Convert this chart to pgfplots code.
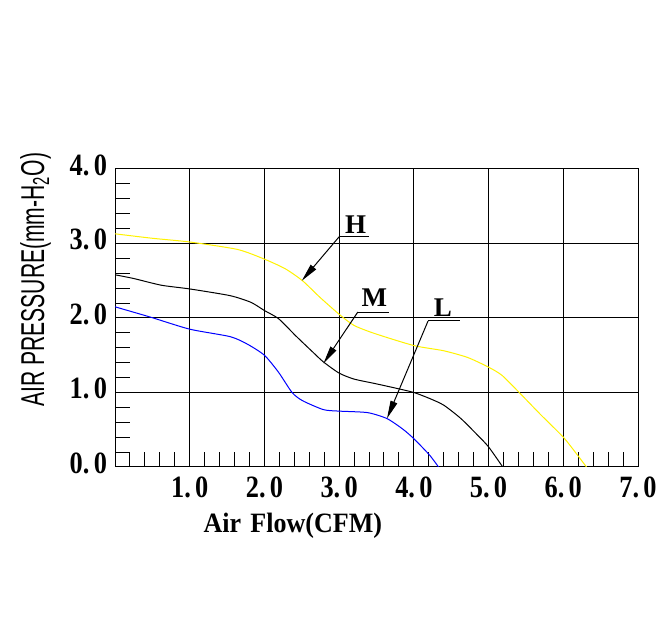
\documentclass[border=0pt]{standalone}
\usepackage{pgfplots}
\pgfplotsset{compat=1.18}
\usepackage{fontspec}
\setmainfont{Liberation Serif}
\newfontfamily\labsans{Liberation Sans}
\usetikzlibrary{arrows.meta}
\newcommand{\tl}[1]{\scalebox{0.85}[1]{#1.\hspace{2.5pt}0}}
\begin{document}
\begin{tikzpicture}
\useasboundingbox (0,0) rectangle (333.5pt,315pt);
\begin{axis}[
  at={(57.5pt,81.5pt)}, anchor=south west,
  scale only axis, width=261.5pt, height=149pt,
  xmin=0, xmax=7, ymin=0, ymax=4,
  xtick={1,2,3,4,5,6,7},
  xticklabels={\tl1,\tl2,\tl3,\tl4,\tl5,\tl6,\tl7},
  ytick={0,1,2,3,4},
  yticklabels={\tl0,\tl1,\tl2,\tl3,\tl4},
  minor xtick={0.2,0.4,0.6,0.8,1.2,1.4,1.6,1.8,2.2,2.4,2.6,2.8,3.2,3.4,3.6,3.8,4.2,4.4,4.6,4.8,5.2,5.4,5.6,5.8,6.2,6.4,6.6,6.8},
  minor y tick num=4,
  tick align=inside, xtick pos=bottom, ytick pos=left,
  major tick length=7.5pt, minor tick length=7.5pt,
  tick style={black, line width=0.5pt},
  grid=major, major grid style={black, line width=0.5pt},
  axis line style={black, line width=0.5pt},
  ticklabel style={font=\bfseries\fontsize{15.5}{15.5}\selectfont},
  yticklabel style={yshift=2pt, xshift=-0.5pt},
  xticklabel style={yshift=-1.5pt},
  xlabel={\scalebox{0.93}[1]{\bfseries\fontsize{14}{14}\selectfont Air\hspace{5pt}Flow(CFM)}},
  xlabel style={at={(axis description cs:0.340,-0.198)}, anchor=center},
  ylabel={\scalebox{0.64}[1]{\labsans\fontsize{16.5}{16.5}\selectfont AIR PRESSURE(mm-H\textsubscript{2}O)}},
  ylabel style={at={(axis description cs:-0.152,0.628)}, anchor=center, rotate=0},
]
\addplot[yellow, line width=0.5pt, smooth, tension=0.4] coordinates {
(0,3.13) (0.5,3.07) (1.0,3.02) (1.64,2.92) (2.0,2.79) (2.28,2.66) (2.51,2.50)
(2.74,2.28) (3.0,2.05) (3.2,1.90) (3.48,1.79) (4.0,1.63) (4.40,1.56) (4.72,1.47)
(5.0,1.34) (5.18,1.23) (5.41,1.00) (5.69,0.71) (6.0,0.40) (6.19,0.16) (6.31,0.0)};
\addplot[black, line width=0.5pt, smooth, tension=0.4] coordinates {
(0,2.58) (0.25,2.53) (0.62,2.44) (1.0,2.39) (1.54,2.30) (1.82,2.21) (2.0,2.10)
(2.19,1.99) (2.42,1.76) (2.65,1.54) (2.79,1.41) (3.0,1.26) (3.2,1.18) (3.48,1.12)
(3.75,1.06) (4.0,1.00) (4.21,0.92) (4.40,0.83) (4.63,0.65) (4.86,0.42) (5.0,0.27) (5.19,0.0)};
\addplot[blue, line width=0.5pt, smooth, tension=0.4] coordinates {
(0,2.15) (0.48,2.01) (1.0,1.85) (1.54,1.75) (1.77,1.65) (2.0,1.50) (2.19,1.27)
(2.37,1.00) (2.51,0.89) (2.79,0.77) (3.0,0.75) (3.38,0.73) (3.64,0.65) (3.85,0.51)
(4.0,0.38) (4.21,0.16) (4.33,0.0)};
% annotations
\draw[line width=0.5pt] (axis cs:3.0,3.09) -- (axis cs:3.40,3.09);
\draw[line width=0.5pt, -{Triangle[length=9pt,width=3.5pt]}] (axis cs:3.0,3.09) -- (axis cs:2.50,2.50);
\node[anchor=base, font=\bfseries\fontsize{13.5}{13.5}\selectfont, inner sep=0pt] at (axis cs:3.22,3.13) {H};
\draw[line width=0.5pt] (axis cs:3.25,2.08) -- (axis cs:3.67,2.08);
\draw[line width=0.5pt, -{Triangle[length=9pt,width=3.5pt]}] (axis cs:3.25,2.08) -- (axis cs:2.79,1.39);
\node[anchor=base, font=\bfseries\fontsize{13.5}{13.5}\selectfont, inner sep=0pt] at (axis cs:3.47,2.16) {M};
\draw[line width=0.5pt] (axis cs:4.19,1.96) -- (axis cs:4.62,1.96);
\draw[line width=0.5pt, -{Triangle[length=9pt,width=3.5pt]}] (axis cs:4.19,1.96) -- (axis cs:3.64,0.65);
\node[anchor=base, font=\bfseries\fontsize{13.5}{13.5}\selectfont, inner sep=0pt] at (axis cs:4.39,2.02) {L};
\end{axis}
\end{tikzpicture}
\end{document}
